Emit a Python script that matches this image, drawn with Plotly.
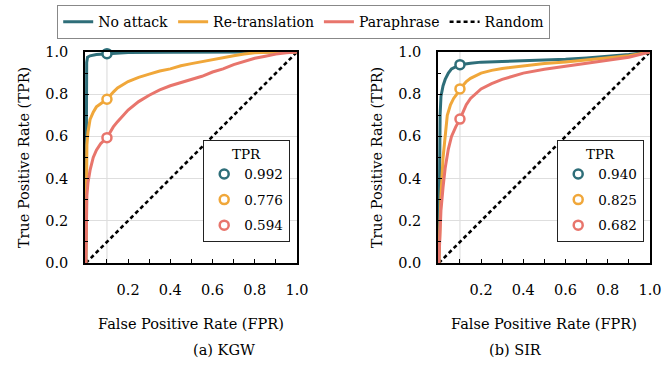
import plotly.graph_objects as go
from plotly.subplots import make_subplots

# ---------------- data ----------------
series_names = ["No attack", "Re-translation", "Paraphrase"]
colors = ["#2E6E79", "#F0A73A", "#E8756C"]
panel_captions = ["(a) KGW", "(b) SIR"]
FPR_THRESHOLD = 0.1

kgw_no_fpr = [0.0, 0.002, 0.004, 0.008, 0.02, 0.05, 0.1, 0.15, 0.2, 0.4, 0.6, 0.8, 1.0]
kgw_no_tpr = [0.0, 0.85, 0.95, 0.975, 0.982, 0.988, 0.992, 0.996, 0.998, 0.999, 1.0, 1.0, 1.0]
kgw_rt_fpr = [0.0, 0.002, 0.005, 0.01, 0.02, 0.035, 0.05, 0.07, 0.1, 0.13, 0.15, 0.2, 0.25, 0.3, 0.35, 0.4, 0.45, 0.5, 0.55, 0.6, 0.65, 0.7, 0.75, 0.8, 0.9, 1.0]
kgw_rt_tpr = [0.0, 0.45, 0.56, 0.62, 0.68, 0.715, 0.74, 0.755, 0.776, 0.81, 0.83, 0.86, 0.88, 0.895, 0.91, 0.92, 0.935, 0.945, 0.955, 0.962, 0.972, 0.982, 0.99, 0.996, 1.0, 1.0]
kgw_pp_fpr = [0.0, 0.002, 0.005, 0.01, 0.02, 0.035, 0.05, 0.07, 0.1, 0.13, 0.15, 0.2, 0.25, 0.3, 0.35, 0.4, 0.45, 0.5, 0.55, 0.6, 0.65, 0.7, 0.75, 0.8, 0.85, 0.9, 0.95, 1.0]
kgw_pp_tpr = [0.0, 0.25, 0.32, 0.38, 0.44, 0.5, 0.535, 0.565, 0.594, 0.645, 0.67, 0.725, 0.765, 0.795, 0.82, 0.84, 0.855, 0.87, 0.885, 0.905, 0.92, 0.94, 0.955, 0.97, 0.98, 0.99, 0.996, 1.0]
sir_no_fpr = [0.0, 0.003, 0.006, 0.01, 0.02, 0.03, 0.045, 0.06, 0.08, 0.1, 0.15, 0.2, 0.3, 0.4, 0.5, 0.6, 0.7, 0.8, 0.9, 1.0]
sir_no_tpr = [0.0, 0.45, 0.7, 0.79, 0.84, 0.87, 0.9, 0.92, 0.932, 0.94, 0.947, 0.952, 0.955, 0.958, 0.962, 0.966, 0.972, 0.98, 0.988, 1.0]
sir_rt_fpr = [0.0, 0.005, 0.01, 0.02, 0.03, 0.04, 0.055, 0.07, 0.085, 0.1, 0.13, 0.15, 0.2, 0.25, 0.3, 0.4, 0.5, 0.6, 0.7, 0.8, 0.9, 1.0]
sir_rt_tpr = [0.0, 0.2, 0.32, 0.5, 0.62, 0.7, 0.75, 0.78, 0.8, 0.825, 0.86, 0.875, 0.9, 0.913, 0.922, 0.935, 0.945, 0.953, 0.962, 0.972, 0.982, 1.0]
sir_pp_fpr = [0.0, 0.004, 0.01, 0.02, 0.03, 0.045, 0.06, 0.08, 0.1, 0.13, 0.15, 0.2, 0.25, 0.3, 0.4, 0.5, 0.6, 0.7, 0.8, 0.9, 1.0]
sir_pp_tpr = [0.0, 0.15, 0.25, 0.36, 0.45, 0.54, 0.6, 0.645, 0.682, 0.75, 0.78, 0.825, 0.85, 0.87, 0.9, 0.918, 0.932, 0.945, 0.958, 0.975, 1.0]

kgw_marker_tpr = [0.992, 0.776, 0.594]
sir_marker_tpr = [0.940, 0.825, 0.682]
random_fpr = [0.0, 1.0]
random_tpr = [0.0, 1.0]

x_tickvals = [0.2, 0.4, 0.6, 0.8, 1.0]
x_ticktext = ["0.2", "0.4", "0.6", "0.8", "1.0"]
y_tickvals = [0.0, 0.2, 0.4, 0.6, 0.8, 1.0]
y_ticktext = ["0.0", "0.2", "0.4", "0.6", "0.8", "1.0"]

panels = [
    ([kgw_no_fpr, kgw_rt_fpr, kgw_pp_fpr], [kgw_no_tpr, kgw_rt_tpr, kgw_pp_tpr], kgw_marker_tpr, "legend2"),
    ([sir_no_fpr, sir_rt_fpr, sir_pp_fpr], [sir_no_tpr, sir_rt_tpr, sir_pp_tpr], sir_marker_tpr, "legend3"),
]

FONT = "DejaVu Serif"
FS = 14.5

fig = make_subplots(rows=1, cols=2)

for p, (xs, ys, mk, lg) in enumerate(panels):
    col = p + 1
    fig.add_trace(go.Scatter(
        x=random_fpr, y=random_tpr, mode="lines", name="Random",
        line=dict(color="black", width=2.6, dash="4px,3px"),
        showlegend=(p == 0), legend="legend", legendrank=4), row=1, col=col)
    for i in range(3):
        fig.add_trace(go.Scatter(
            x=xs[i], y=ys[i], mode="lines", name=series_names[i],
            line=dict(color=colors[i], width=3),
            showlegend=(p == 0), legend="legend", legendrank=i + 1), row=1, col=col)
    for i in range(3):
        fig.add_trace(go.Scatter(
            x=[FPR_THRESHOLD], y=[mk[i]], mode="markers", name=f"{mk[i]:.3f}",
            marker=dict(symbol="circle", size=9, color="white",
                        line=dict(color=colors[i], width=2.5)),
            legendgroup=f"{lg}_{i}",
            showlegend=True, legend=lg, legendrank=i + 1, cliponaxis=False), row=1, col=col)

x_domains = [[85 / 664, 297 / 664], [438 / 664, 650 / 664]]
y_domain = [1 - 263 / 365, 1 - 52 / 365]

for p in range(2):
    ax = "" if p == 0 else str(p + 1)
    fig.update_layout(**{
        f"xaxis{ax}": dict(
            domain=x_domains[p], range=[-0.004, 1.0], automargin=False,
            tickvals=x_tickvals, ticktext=x_ticktext,
            ticks="inside", ticklen=4, tickwidth=1.2, tickcolor="black",
            minor=dict(dtick=0.1, tick0=0, ticks="inside", ticklen=4, tickwidth=1.2, tickcolor="black", showgrid=False),
            showgrid=False, zeroline=False,
            showline=True, mirror=True, linecolor="black", linewidth=1.6,
            ticklabelstandoff=13,
            tickfont=dict(family=FONT, size=FS, color="black"),
            title=dict(text="False Positive Rate (FPR)", standoff=22,
                       font=dict(family=FONT, size=FS, color="black")),
        ),
        f"yaxis{ax}": dict(
            domain=y_domain, range=[0, 1.0], automargin=False,
            tickvals=y_tickvals, ticktext=y_ticktext,
            ticks="inside", ticklen=4, tickwidth=1.2, tickcolor="black",
            minor=dict(dtick=0.1, tick0=0, ticks="inside", ticklen=3, tickwidth=1.2, tickcolor="black", showgrid=False),
            showgrid=True, gridcolor="#DEDEDE", gridwidth=1.2, zeroline=False,
            showline=True, mirror=True, linecolor="black", linewidth=1.6,
            ticklabelstandoff=12,
            tickfont=dict(family=FONT, size=FS, color="black"),
            title=dict(text="True Positive Rate (TPR)", standoff=12,
                       font=dict(family=FONT, size=FS, color="black")),
        ),
    })
    xref = "x" if p == 0 else "x2"
    yref = "y" if p == 0 else "y2"
    fig.add_shape(type="line", xref=xref, yref=f"{yref} domain",
                  x0=FPR_THRESHOLD, x1=FPR_THRESHOLD, y0=0, y1=1,
                  line=dict(color="#DEDEDE", width=1.2), layer="below")
    fig.add_annotation(text=panel_captions[p], xref="paper", yref="paper",
                       x=sum(x_domains[p]) / 2, y=1 - 350 / 365, yanchor="middle",
                       showarrow=False, font=dict(family=FONT, size=FS, color="black"))

inner_legend = dict(
    title=dict(text="TPR", side="top center", font=dict(family=FONT, size=13.5, color="black")),
    font=dict(family=FONT, size=13.5, color="black"),
    bgcolor="white", bordercolor="#222", borderwidth=1.2,
    xanchor="right", yanchor="top", itemwidth=30, tracegroupgap=5,
)

fig.update_layout(
    width=664, height=365,
    margin=dict(l=0, r=0, t=0, b=0, autoexpand=False),
    plot_bgcolor="white", paper_bgcolor="white",
    font=dict(family=FONT, size=FS, color="black"),
    legend=dict(
        orientation="h", x=57 / 664, y=1 - 5 / 365, xanchor="left", yanchor="top",
        font=dict(family=FONT, size=14, color="black"),
        bordercolor="#888", borderwidth=1.2, bgcolor="white",
        itemwidth=30, traceorder="normal",
    ),
    legend2=dict(x=290 / 664, y=1 - 140 / 365, **inner_legend),
    legend3=dict(x=644 / 664, y=1 - 140 / 365, **inner_legend),
)

fig.write_html("out.html", config={"displayModeBar": False},
               post_script="document.body.style.margin='0';")
